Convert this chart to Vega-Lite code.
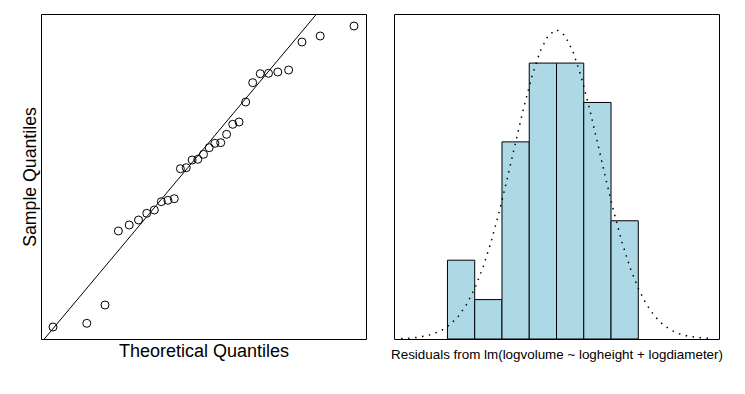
{
  "$schema": "https://vega.github.io/schema/vega-lite/v6.json",
  "background": "white",
  "padding": {"left": 20, "top": 13, "right": 5, "bottom": 5},
  "bounds": "flush",
  "spacing": 28,
  "config": {
    "view": {"stroke": "black", "strokeWidth": 1},
    "font": "Liberation Sans",
    "axis": {"labels": false, "ticks": false, "domain": false, "grid": false, "minExtent": 0, "maxExtent": 0, "titleFontWeight": "normal", "titleColor": "black", "titleFont": "Liberation Sans"}
  },
  "datasets": {
    "qq": [
      {"theoretical": -2.141, "sample": -0.1505},
      {"theoretical": -1.660, "sample": -0.1468},
      {"theoretical": -1.401, "sample": -0.1285},
      {"theoretical": -1.211, "sample": -0.0545},
      {"theoretical": -1.057, "sample": -0.0485},
      {"theoretical": -0.925, "sample": -0.0435},
      {"theoretical": -0.807, "sample": -0.0368},
      {"theoretical": -0.700, "sample": -0.0335},
      {"theoretical": -0.600, "sample": -0.0252},
      {"theoretical": -0.506, "sample": -0.0238},
      {"theoretical": -0.416, "sample": -0.0222},
      {"theoretical": -0.329, "sample": 0.0078},
      {"theoretical": -0.245, "sample": 0.0088},
      {"theoretical": -0.162, "sample": 0.0165},
      {"theoretical": -0.081, "sample": 0.0172},
      {"theoretical": 0.0, "sample": 0.0222},
      {"theoretical": 0.081, "sample": 0.0288},
      {"theoretical": 0.162, "sample": 0.0332},
      {"theoretical": 0.245, "sample": 0.0338},
      {"theoretical": 0.329, "sample": 0.0422},
      {"theoretical": 0.416, "sample": 0.0522},
      {"theoretical": 0.506, "sample": 0.0545},
      {"theoretical": 0.600, "sample": 0.0745},
      {"theoretical": 0.700, "sample": 0.0938},
      {"theoretical": 0.807, "sample": 0.1028},
      {"theoretical": 0.925, "sample": 0.1032},
      {"theoretical": 1.057, "sample": 0.1045},
      {"theoretical": 1.211, "sample": 0.1065},
      {"theoretical": 1.401, "sample": 0.1345},
      {"theoretical": 1.660, "sample": 0.1405},
      {"theoretical": 2.141, "sample": 0.1505}
    ],
    "qqline": [
      {"theoretical": -2.265, "sample": -0.1625},
      {"theoretical": 1.609, "sample": 0.1625}
    ],
    "hist": [
      {"start": -0.20, "end": -0.15, "density": 1.290},
      {"start": -0.15, "end": -0.10, "density": 0.645},
      {"start": -0.10, "end": -0.05, "density": 3.226},
      {"start": -0.05, "end": 0.00, "density": 4.516},
      {"start": 0.00, "end": 0.05, "density": 4.516},
      {"start": 0.05, "end": 0.10, "density": 3.871},
      {"start": 0.10, "end": 0.15, "density": 1.935}
    ],
    "curve": [
      {"x": -0.285, "y": 0.0073},
      {"x": -0.270, "y": 0.0143},
      {"x": -0.255, "y": 0.0270},
      {"x": -0.240, "y": 0.0490},
      {"x": -0.225, "y": 0.0859},
      {"x": -0.210, "y": 0.145},
      {"x": -0.195, "y": 0.237},
      {"x": -0.180, "y": 0.373},
      {"x": -0.165, "y": 0.565},
      {"x": -0.150, "y": 0.827},
      {"x": -0.135, "y": 1.167},
      {"x": -0.120, "y": 1.588},
      {"x": -0.105, "y": 2.084},
      {"x": -0.090, "y": 2.637},
      {"x": -0.075, "y": 3.219},
      {"x": -0.060, "y": 3.789},
      {"x": -0.045, "y": 4.301},
      {"x": -0.030, "y": 4.709},
      {"x": -0.015, "y": 4.972},
      {"x": 0.000, "y": 5.063},
      {"x": 0.015, "y": 4.972},
      {"x": 0.030, "y": 4.709},
      {"x": 0.045, "y": 4.301},
      {"x": 0.060, "y": 3.789},
      {"x": 0.075, "y": 3.219},
      {"x": 0.090, "y": 2.637},
      {"x": 0.105, "y": 2.084},
      {"x": 0.120, "y": 1.588},
      {"x": 0.135, "y": 1.167},
      {"x": 0.150, "y": 0.827},
      {"x": 0.165, "y": 0.565},
      {"x": 0.180, "y": 0.373},
      {"x": 0.195, "y": 0.237},
      {"x": 0.210, "y": 0.145},
      {"x": 0.225, "y": 0.0859},
      {"x": 0.240, "y": 0.0490},
      {"x": 0.255, "y": 0.0270},
      {"x": 0.270, "y": 0.0143},
      {"x": 0.285, "y": 0.0073}
    ]
  },
  "hconcat": [
    {
      "width": 325,
      "height": 325,
      "layer": [
        {
          "data": {"name": "qqline"},
          "mark": {"type": "line", "color": "black", "strokeWidth": 1, "clip": true},
          "encoding": {
            "x": {"field": "theoretical", "type": "quantitative", "scale": {"domain": [-2.312, 2.312], "nice": false, "zero": false}, "axis": {"title": "Theoretical Quantiles", "titleFontSize": 18, "titlePadding": 3}},
            "y": {"field": "sample", "type": "quantitative", "scale": {"domain": [-0.1625, 0.1625], "nice": false, "zero": false}, "axis": {"title": "Sample Quantiles", "titleFontSize": 17.7, "titlePadding": 2}}
          }
        },
        {
          "data": {"name": "qq"},
          "mark": {"type": "point", "shape": "circle", "filled": false, "color": "black", "size": 64, "strokeWidth": 1, "opacity": 1},
          "encoding": {
            "x": {"field": "theoretical", "type": "quantitative"},
            "y": {"field": "sample", "type": "quantitative"}
          }
        }
      ]
    },
    {
      "width": 325,
      "height": 325,
      "layer": [
        {
          "data": {"name": "hist"},
          "mark": {"type": "bar", "fill": "#ADD8E6", "stroke": "black", "strokeWidth": 1},
          "encoding": {
            "x": {"field": "start", "type": "quantitative", "scale": {"domain": [-0.298, 0.298], "nice": false, "zero": false}, "axis": {"title": "Residuals from lm(logvolume ~ logheight + logdiameter)", "titleFontSize": 13.4, "titlePadding": 8}},
            "x2": {"field": "end"},
            "y": {"field": "density", "type": "quantitative", "scale": {"domain": [0, 5.319], "nice": false}, "axis": null},
            "y2": {"datum": 0}
          }
        },
        {
          "data": {"name": "curve"},
          "mark": {"type": "line", "color": "black", "strokeWidth": 1.5, "strokeDash": [1.5, 5.5], "clip": true},
          "encoding": {
            "x": {"field": "x", "type": "quantitative"},
            "y": {"field": "y", "type": "quantitative"}
          }
        }
      ]
    }
  ]
}
